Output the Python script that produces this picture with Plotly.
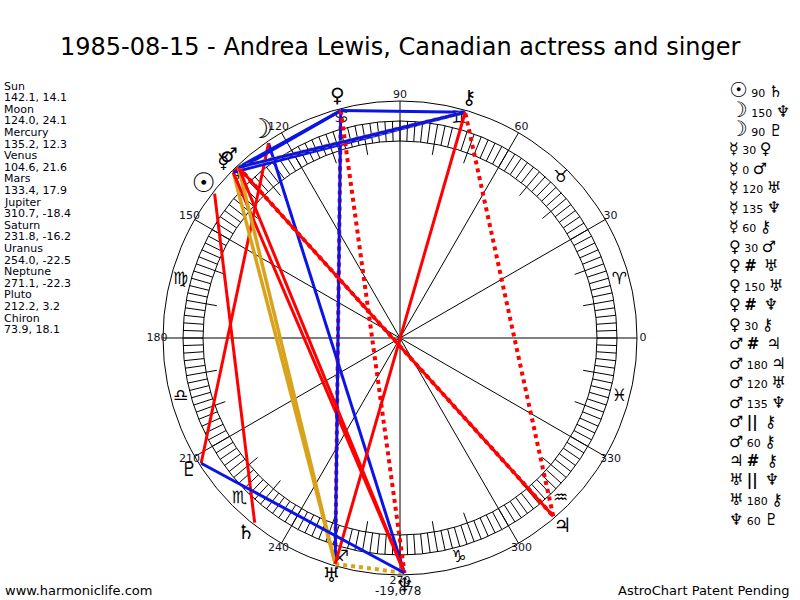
import numpy as np
import plotly.graph_objects as go

title = "1985-08-15 - Andrea Lewis, Canadian actress and singer"

planet_names = ["Sun", "Moon", "Mercury", "Venus", "Mars", "Jupiter",
                "Saturn", "Uranus", "Neptune", "Pluto", "Chiron"]
planet_glyphs = ["☉", "☽", "☿", "♀", "♂", "♃", "♄", "♅", "♆", "♇", "⚷"]
longitudes = [142.1, 124.0, 135.2, 104.6, 133.4, 310.7, 231.8, 254.0, 271.1, 212.2, 73.9]
declinations = [14.1, 24.1, 12.3, 21.6, 17.9, -18.4, -16.2, -22.5, -22.3, 3.2, 18.1]

zodiac_glyphs = ["♈", "♉", "♊", "♋", "♌", "♍", "♎", "♏", "♐", "♑", "♒", "♓"]
degree_labels = [0, 30, 60, 90, 120, 150, 180, 210, 240, 270, 300, 330]

# aspect table (right hand column), same order as listed
aspect_from = ["Sun", "Moon", "Moon", "Mercury", "Mercury", "Mercury", "Mercury", "Mercury",
               "Venus", "Venus", "Venus", "Venus", "Venus", "Mars", "Mars", "Mars", "Mars",
               "Mars", "Mars", "Jupiter", "Uranus", "Uranus", "Neptune"]
aspect_kind = ["90", "150", "90", "30", "0", "120", "135", "60",
               "30", "#", "150", "#", "30", "#", "180", "120", "135",
               "||", "60", "#", "||", "180", "60"]
aspect_to = ["Saturn", "Neptune", "Pluto", "Venus", "Mars", "Uranus", "Neptune", "Chiron",
             "Mars", "Uranus", "Uranus", "Neptune", "Chiron", "Jupiter", "Jupiter", "Uranus", "Neptune",
             "Chiron", "Chiron", "Chiron", "Neptune", "Chiron", "Pluto"]

footer_left = "www.harmoniclife.com"
footer_right = "AstroChart Patent Pending"
bottom_note = "-19,678"

# ---- geometry / styles ----
cx, cy = 400, 338
r_outer, r_band_out, r_band_in, r_tick_in = 237, 217, 197, 186
r_aspect, r_zodiac, r_label, r_planet = 235, 227, 243, 249
FONT = "DejaVu Sans"
glyph_size = {"☉": 27, "☽": 27}   # sun/moon are drawn small in DejaVu

RED, BLUE, GOLD = "#ff0000", "#0a14e6", "#d9a21b"
line_style = {
    "0": (RED, "solid", 3), "90": (RED, "solid", 3), "180": (RED, "solid", 3),
    "135": (RED, "solid", 3), "30": (BLUE, "solid", 3), "60": (BLUE, "solid", 3),
    "150": (BLUE, "solid", 3), "120": (GOLD, "solid", 3.5),
    "#": (RED, "dot", 4), "||": (GOLD, "dot", 4),
}


def polar(deg, r):
    a = np.radians(np.asarray(deg, dtype=float))
    return cx + r * np.cos(a), cy - r * np.sin(a)


def segments(angles, r0, r1):
    xs, ys = [], []
    for d in angles:
        x0, y0 = polar(d, r0)
        x1, y1 = polar(d, r1)
        xs += [x0, x1, None]
        ys += [y0, y1, None]
    return xs, ys


fig = go.Figure()

# radial lines every 30 degrees
rx, ry = segments(degree_labels, 0, r_outer)
fig.add_trace(go.Scatter(x=rx, y=ry, mode="lines", line=dict(color="black", width=1),
                         hoverinfo="skip"))
# 2-degree ticks across the band
tx, ty = segments(np.arange(0, 360, 2), r_band_in, r_band_out)
fig.add_trace(go.Scatter(x=tx, y=ty, mode="lines", line=dict(color="black", width=1),
                         hoverinfo="skip"))
# 10-degree ticks inside the band
tx, ty = segments([d for d in range(0, 360, 10) if d % 30], r_tick_in, r_band_in)
fig.add_trace(go.Scatter(x=tx, y=ty, mode="lines", line=dict(color="black", width=1),
                         hoverinfo="skip"))

# zodiac signs in the ring
zx, zy = polar(np.arange(12) * 30 + 15, r_zodiac)
fig.add_trace(go.Scatter(x=zx, y=zy, mode="text", text=zodiac_glyphs,
                         textfont=dict(family=FONT, size=17, color="black"), hoverinfo="skip"))

# degree labels
lx, ly = polar(degree_labels, r_label)
fig.add_trace(go.Scatter(x=lx, y=ly, mode="text", text=[str(d) for d in degree_labels],
                         textfont=dict(family=FONT, size=11, color="#111122"), hoverinfo="skip"))

# aspect lines
idx = {n: i for i, n in enumerate(planet_names)}
for p1, kind, p2 in zip(aspect_from, aspect_kind, aspect_to):
    color, dash, width = line_style[kind]
    x1, y1 = polar(longitudes[idx[p1]], r_aspect)
    x2, y2 = polar(longitudes[idx[p2]], r_aspect)
    fig.add_trace(go.Scatter(x=[x1, x2], y=[y1, y2], mode="lines",
                             line=dict(color=color, width=width, dash=dash),
                             hoverinfo="skip"))

# planet glyphs
px_, py_ = polar(longitudes, r_planet)
fig.add_trace(go.Scatter(x=px_, y=py_, mode="text", text=planet_glyphs,
                         textfont=dict(family=FONT, color="black",
                                       size=[glyph_size.get(g, 20) for g in planet_glyphs]),
                         customdata=np.array(declinations),
                         hovertemplate="%{text}<br>%{customdata}<extra></extra>"))

circles = [dict(type="circle", xref="x", yref="y", x0=cx - r, x1=cx + r, y0=cy - r, y1=cy + r,
                line=dict(color="black", width=1), layer="below")
           for r in (r_outer, r_band_out, r_band_in)]

annotations = []
# left column: name / longitude, declination
lines = []
for n, lon, dec in zip(planet_names, longitudes, declinations):
    lines += [n, f"{lon:.1f}, {dec:.1f}"]
for i, s in enumerate(lines):
    annotations.append(dict(x=2, y=86 + 11.6 * i, text=s, xanchor="left", yanchor="middle",
                            showarrow=False, font=dict(family=FONT, size=11, color="#000010")))

# right column: aspect list
gmap = dict(zip(planet_names, planet_glyphs))
for i, (p1, kind, p2) in enumerate(zip(aspect_from, aspect_kind, aspect_to)):
    if kind in ("#", "||"):
        mid = f"<span style='font-size:15px'><b>{kind}</b></span> "
    else:
        mid = kind
    big1 = glyph_size[gmap[p1]] - 6 if gmap[p1] in glyph_size else 16
    s = (f"<span style='font-size:{big1}px'>{gmap[p1]}</span> {mid} "
         f"<span style='font-size:16px'>{gmap[p2]}</span>")
    annotations.append(dict(x=727, y=90 + 19.5 * i, text=s, xanchor="left", yanchor="middle",
                            showarrow=False, font=dict(family=FONT, size=11, color="black")))

annotations += [
    dict(x=400, y=47, text=title, showarrow=False, xanchor="center", yanchor="middle",
         font=dict(family=FONT, size=24, color="black")),
    dict(x=3, y=590, text=footer_left, showarrow=False, xanchor="left", yanchor="middle",
         font=dict(family=FONT, size=13, color="black")),
    dict(x=791, y=590, text=footer_right, showarrow=False, xanchor="right", yanchor="middle",
         font=dict(family=FONT, size=13, color="black")),
    dict(x=398, y=591, text=bottom_note, showarrow=False, xanchor="center", yanchor="middle",
         font=dict(family=FONT, size=12, color="#111122")),
]

fig.update_layout(
    width=800, height=600, margin=dict(l=0, r=0, t=0, b=0),
    paper_bgcolor="white", plot_bgcolor="white", showlegend=False,
    xaxis=dict(range=[0, 800], visible=False, fixedrange=True),
    yaxis=dict(range=[600, 0], visible=False, fixedrange=True),
    shapes=circles, annotations=annotations,
)

fig.write_html("out.html", config={"displayModeBar": False},
               post_script="document.body.style.margin = '0px';")
